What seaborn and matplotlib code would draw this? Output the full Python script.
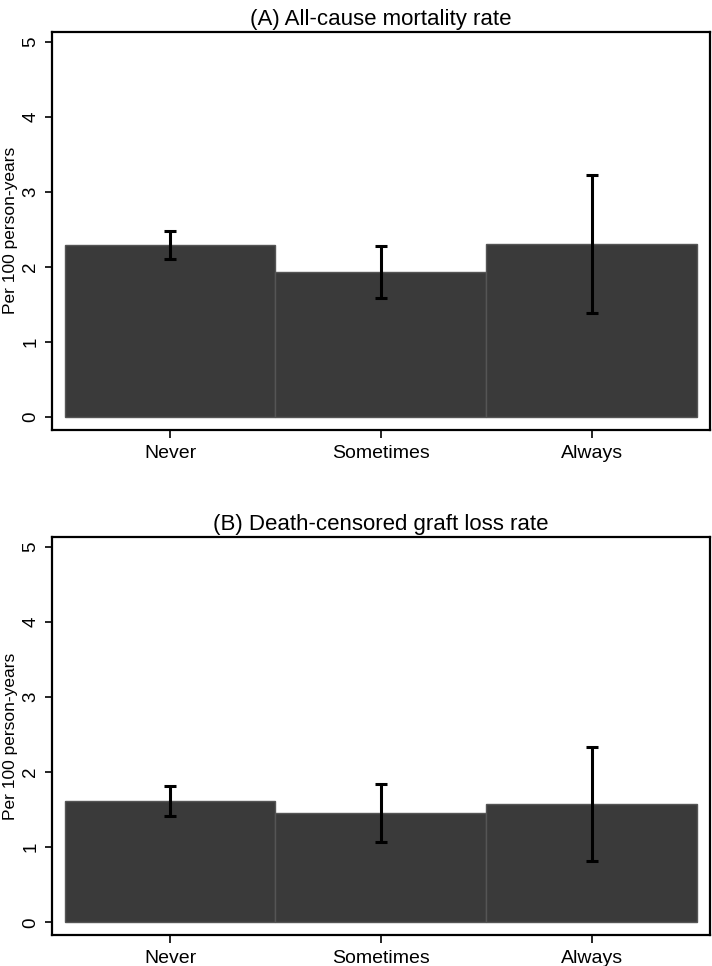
import numpy as np
import pandas as pd
import matplotlib
matplotlib.use("Agg")
import matplotlib.pyplot as plt
import seaborn as sns

# data
groups = ["Never", "Sometimes", "Always"]
mort_rate = [2.29, 1.93, 2.30]
mort_lo = [2.10, 1.59, 1.38]
mort_hi = [2.48, 2.28, 3.23]
graft_rate = [1.61, 1.45, 1.57]
graft_lo = [1.42, 1.07, 0.82]
graft_hi = [1.82, 1.84, 2.33]
titles = ["(A) All-cause mortality rate", "(B) Death-censored graft loss rate"]

sns.set_style("white")
plt.rcParams['font.family'] = ['Liberation Sans', 'DejaVu Sans']
plt.rcParams['text.color'] = 'black'
plt.rcParams['axes.labelcolor'] = 'black'
plt.rcParams['xtick.color'] = 'black'
plt.rcParams['ytick.color'] = 'black'

fig = plt.figure(figsize=(7.12, 9.66), dpi=100)
ax_a = fig.add_axes([0.073, 0.555, 0.924, 0.412])
ax_b = fig.add_axes([0.073, 0.032, 0.924, 0.412])

panels = [
    (ax_a, mort_rate, mort_lo, mort_hi, titles[0]),
    (ax_b, graft_rate, graft_lo, graft_hi, titles[1]),
]

for ax, rate, lo, hi, title in panels:
    df = pd.DataFrame({"group": groups, "rate": rate, "lo": lo, "hi": hi})
    sns.barplot(data=df, x="group", y="rate", ax=ax, width=1.0, color="#3a3a3a",
                saturation=1, edgecolor="#555555", linewidth=1, errorbar=None)
    yerr = np.array([df["rate"] - df["lo"], df["hi"] - df["rate"]])
    ax.errorbar(np.arange(len(groups)), df["rate"], yerr=yerr, fmt="none",
                ecolor="black", elinewidth=2.2, capsize=4, capthick=2.2)
    ax.set_xlim(-0.56, 2.56)
    ax.set_ylim(-0.17, 5.13)
    ax.set_yticks([0, 1, 2, 3, 4, 5])
    ax.tick_params(axis="y", labelrotation=90, labelsize=13.5, length=5, width=1.2,
                   direction="out", left=True, pad=4)
    ax.tick_params(axis="x", labelsize=14, length=6, width=1.2, direction="out",
                   bottom=True, pad=5)
    for lab in ax.get_yticklabels():
        lab.set_verticalalignment("center")
    ax.set_xlabel("")
    ax.set_ylabel("Per 100 person-years", fontsize=12.5, labelpad=3)
    ax.set_title(title, fontsize=16, pad=5)
    for sp in ax.spines.values():
        sp.set_visible(True)
        sp.set_color("black")
        sp.set_linewidth(1.6)

fig.savefig("out.png", dpi=100)
